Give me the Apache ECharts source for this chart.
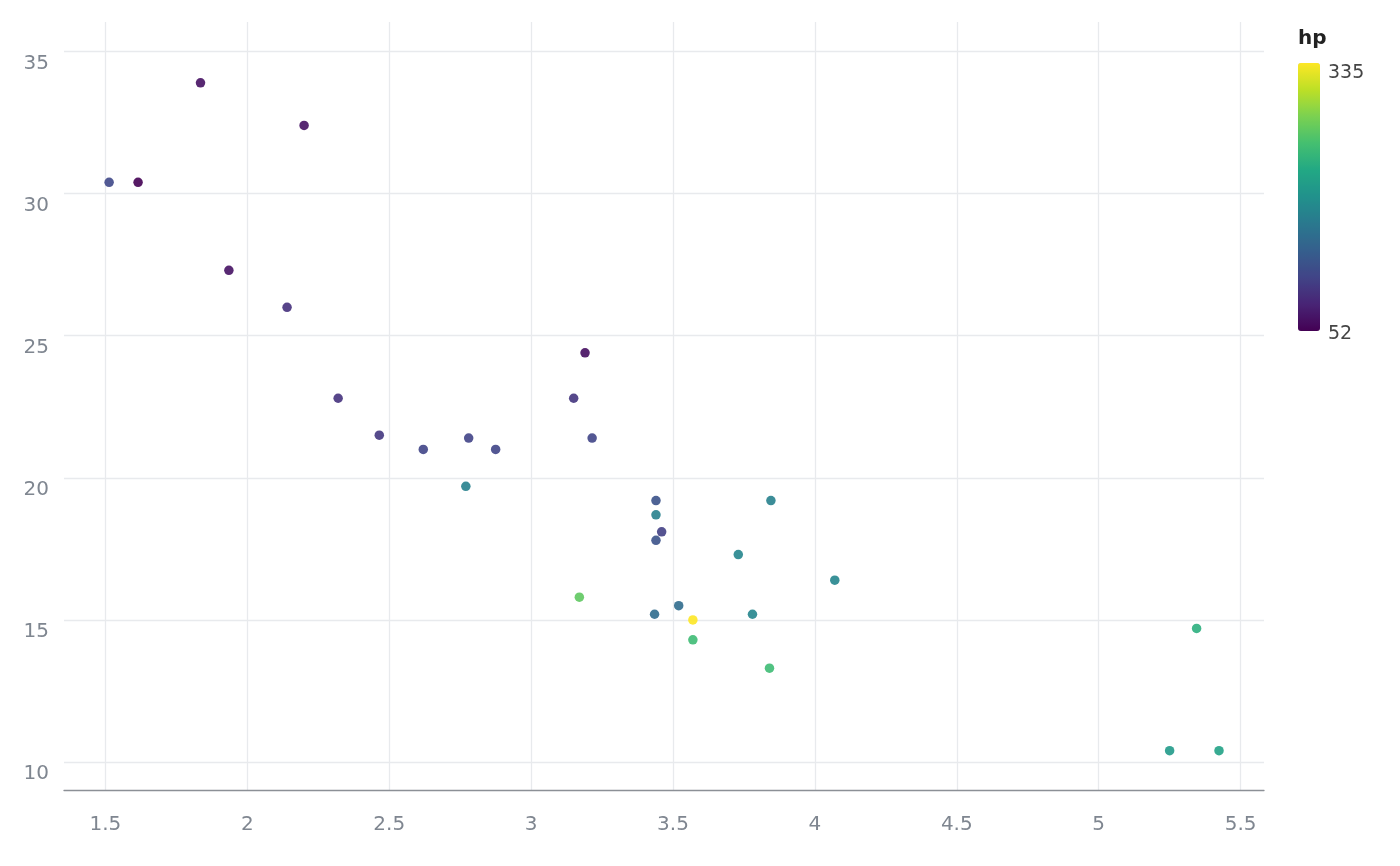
<!DOCTYPE html>
<html>
<head>
<meta charset="utf-8">
<script src="https://cdn.jsdelivr.net/npm/echarts@6/dist/echarts.min.js"></script>
<style>html,body{margin:0;padding:0;background:#fff}#c{width:1400px;height:866px}</style>
</head>
<body>
<div id="c"></div>
<script>
const wt  = [2.620,2.875,2.320,3.215,3.440,3.460,3.570,3.190,3.150,3.440,3.440,4.070,3.730,3.780,5.250,5.424,5.345,2.200,1.615,1.835,2.465,3.520,3.435,3.840,3.845,1.935,2.140,1.513,3.170,2.770,3.570,2.780];
const mpg = [21.0,21.0,22.8,21.4,18.7,18.1,14.3,24.4,22.8,19.2,17.8,16.4,17.3,15.2,10.4,10.4,14.7,32.4,30.4,33.9,21.5,15.5,15.2,13.3,19.2,27.3,26.0,30.4,15.8,19.7,15.0,21.4];
const hp  = [110,110,93,110,175,105,245,62,95,123,123,180,180,180,205,215,230,66,52,65,97,150,150,245,175,66,91,113,264,175,335,109];
const hpMin = 52, hpMax = 335;
const legendTitle = 'hp';
const viridis = ['#440154','#482475','#414487','#355f8d','#2a788e','#21918c','#22a884','#44bf70','#7ad151','#bddf26','#fde725'];

const data = wt.map((w,i)=>[w, mpg[i], hp[i]]);
const chart = echarts.init(document.getElementById('c'));
const FONT = 'DejaVu Sans';
const barTop = 63, barH = 268;
chart.setOption({
  animation:false,
  grid:{left:64, right:136, top:22, bottom:76},
  xAxis:{
    type:'value', min:1.354, max:5.5825, splitNumber:8,
    axisLine:{show:true, onZero:false, lineStyle:{color:'#8c9096', width:1.3}},
    axisTick:{show:false},
    axisLabel:{color:'#7f8690', fontSize:20, fontFamily:FONT, margin:25, showMinLabel:false, showMaxLabel:false},
    splitLine:{show:true, showMinLine:false, showMaxLine:false, lineStyle:{color:'#e8eaed', width:1.3}}
  },
  yAxis:{
    type:'value', min:9.015, max:36.04, splitNumber:5,
    axisLine:{show:false}, axisTick:{show:false},
    axisLabel:{color:'#7f8690', fontSize:20, fontFamily:FONT, margin:15, verticalAlign:'top', padding:[2,0,0,0], showMinLabel:false, showMaxLabel:false},
    splitLine:{show:true, showMinLine:false, showMaxLine:false, lineStyle:{color:'#e8eaed', width:1.3}}
  },
  visualMap:{
    type:'continuous', min:hpMin, max:hpMax, dimension:2,
    calculable:false, realtime:false,
    inRange:{color:viridis},
    orient:'vertical', left:1298, top:barTop, itemWidth:22, itemHeight:barH,
    text:null, showLabel:false, padding:0, hoverLink:false
  },
  graphic:[
    {type:'text', left:1298, top:29, style:{text:legendTitle, fontFamily:FONT, fontSize:20, fontWeight:'bold', fill:'#222'}},
    {type:'text', x:1328, y:barTop+10, style:{text:String(hpMax), fontFamily:FONT, fontSize:19, fill:'#454545', verticalAlign:'middle'}},
    {type:'text', x:1328, y:barTop+barH+3, style:{text:String(hpMin), fontFamily:FONT, fontSize:19, fill:'#454545', verticalAlign:'middle'}}
  ],
  series:[{
    type:'scatter', data:data, symbolSize:9.5,
    itemStyle:{opacity:0.9}
  }]
});
</script>
</body>
</html>
